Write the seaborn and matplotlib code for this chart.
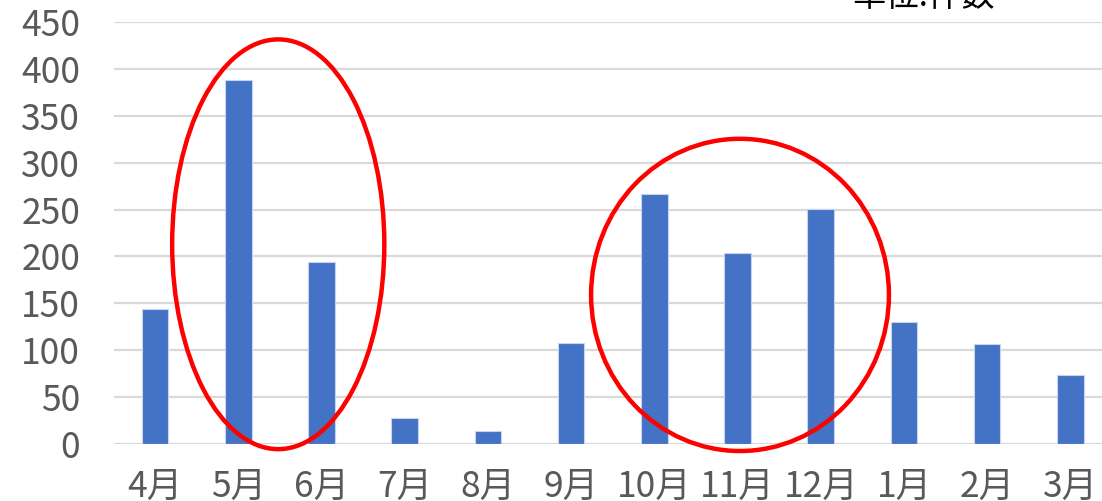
import seaborn as sns
import matplotlib.pyplot as plt
from matplotlib.patches import Ellipse
import pandas as pd

# monthly counts (件数)
months = ["4月", "5月", "6月", "7月", "8月", "9月", "10月", "11月", "12月", "1月", "2月", "3月"]
counts = [144, 388, 194, 28, 14, 108, 267, 204, 251, 130, 107, 74]
y_ticks = list(range(0, 451, 50))
unit_label = "単位:件数"

df = pd.DataFrame({"month": months, "count": counts})

sns.set_theme(style="white")
plt.rcParams["font.family"] = ["Noto Sans CJK JP", "DejaVu Sans"]

fig = plt.figure(figsize=(11.02, 5.01), dpi=100)
ax = fig.add_axes([0.1030, 0.1138, 0.906, 0.8422])

sns.barplot(data=df, x="month", y="count", ax=ax, color="#4472C4",
            width=0.32, edgecolor="#c8d4ee", linewidth=0.8, saturation=1, zorder=3)

ax.set_ylim(0, 450)
ax.set_yticks(y_ticks)
ax.set_xlim(-0.5, len(months) - 0.5)
ax.grid(axis="y", color="#d9d9d9", linewidth=1.6, zorder=0)
for s in ax.spines.values():
    s.set_visible(False)
ax.set_xlabel("")
ax.set_ylabel("")
ax.tick_params(axis="y", length=0, pad=24, labelsize=25.5, labelcolor="#595959")
ax.tick_params(axis="x", length=0, pad=18, labelsize=25.5, labelcolor="#595959")
for lbl in ax.get_yticklabels():
    lbl.set_fontstretch("expanded")

# red circles highlighting peaks
ax.add_patch(Ellipse((1.48, 213), 2.55, 437, fill=False, edgecolor="#ff0000",
                     linewidth=3.2, zorder=4, clip_on=False))
ax.add_patch(Ellipse((7.03, 159), 3.58, 333, fill=False, edgecolor="#ff0000",
                     linewidth=3.2, zorder=4, clip_on=False))

fig.text(924 / 1102, 1 - 6 / 501, unit_label, ha="center", va="baseline",
         fontsize=24, color="#000000")

fig.savefig("out.png", dpi=100)
